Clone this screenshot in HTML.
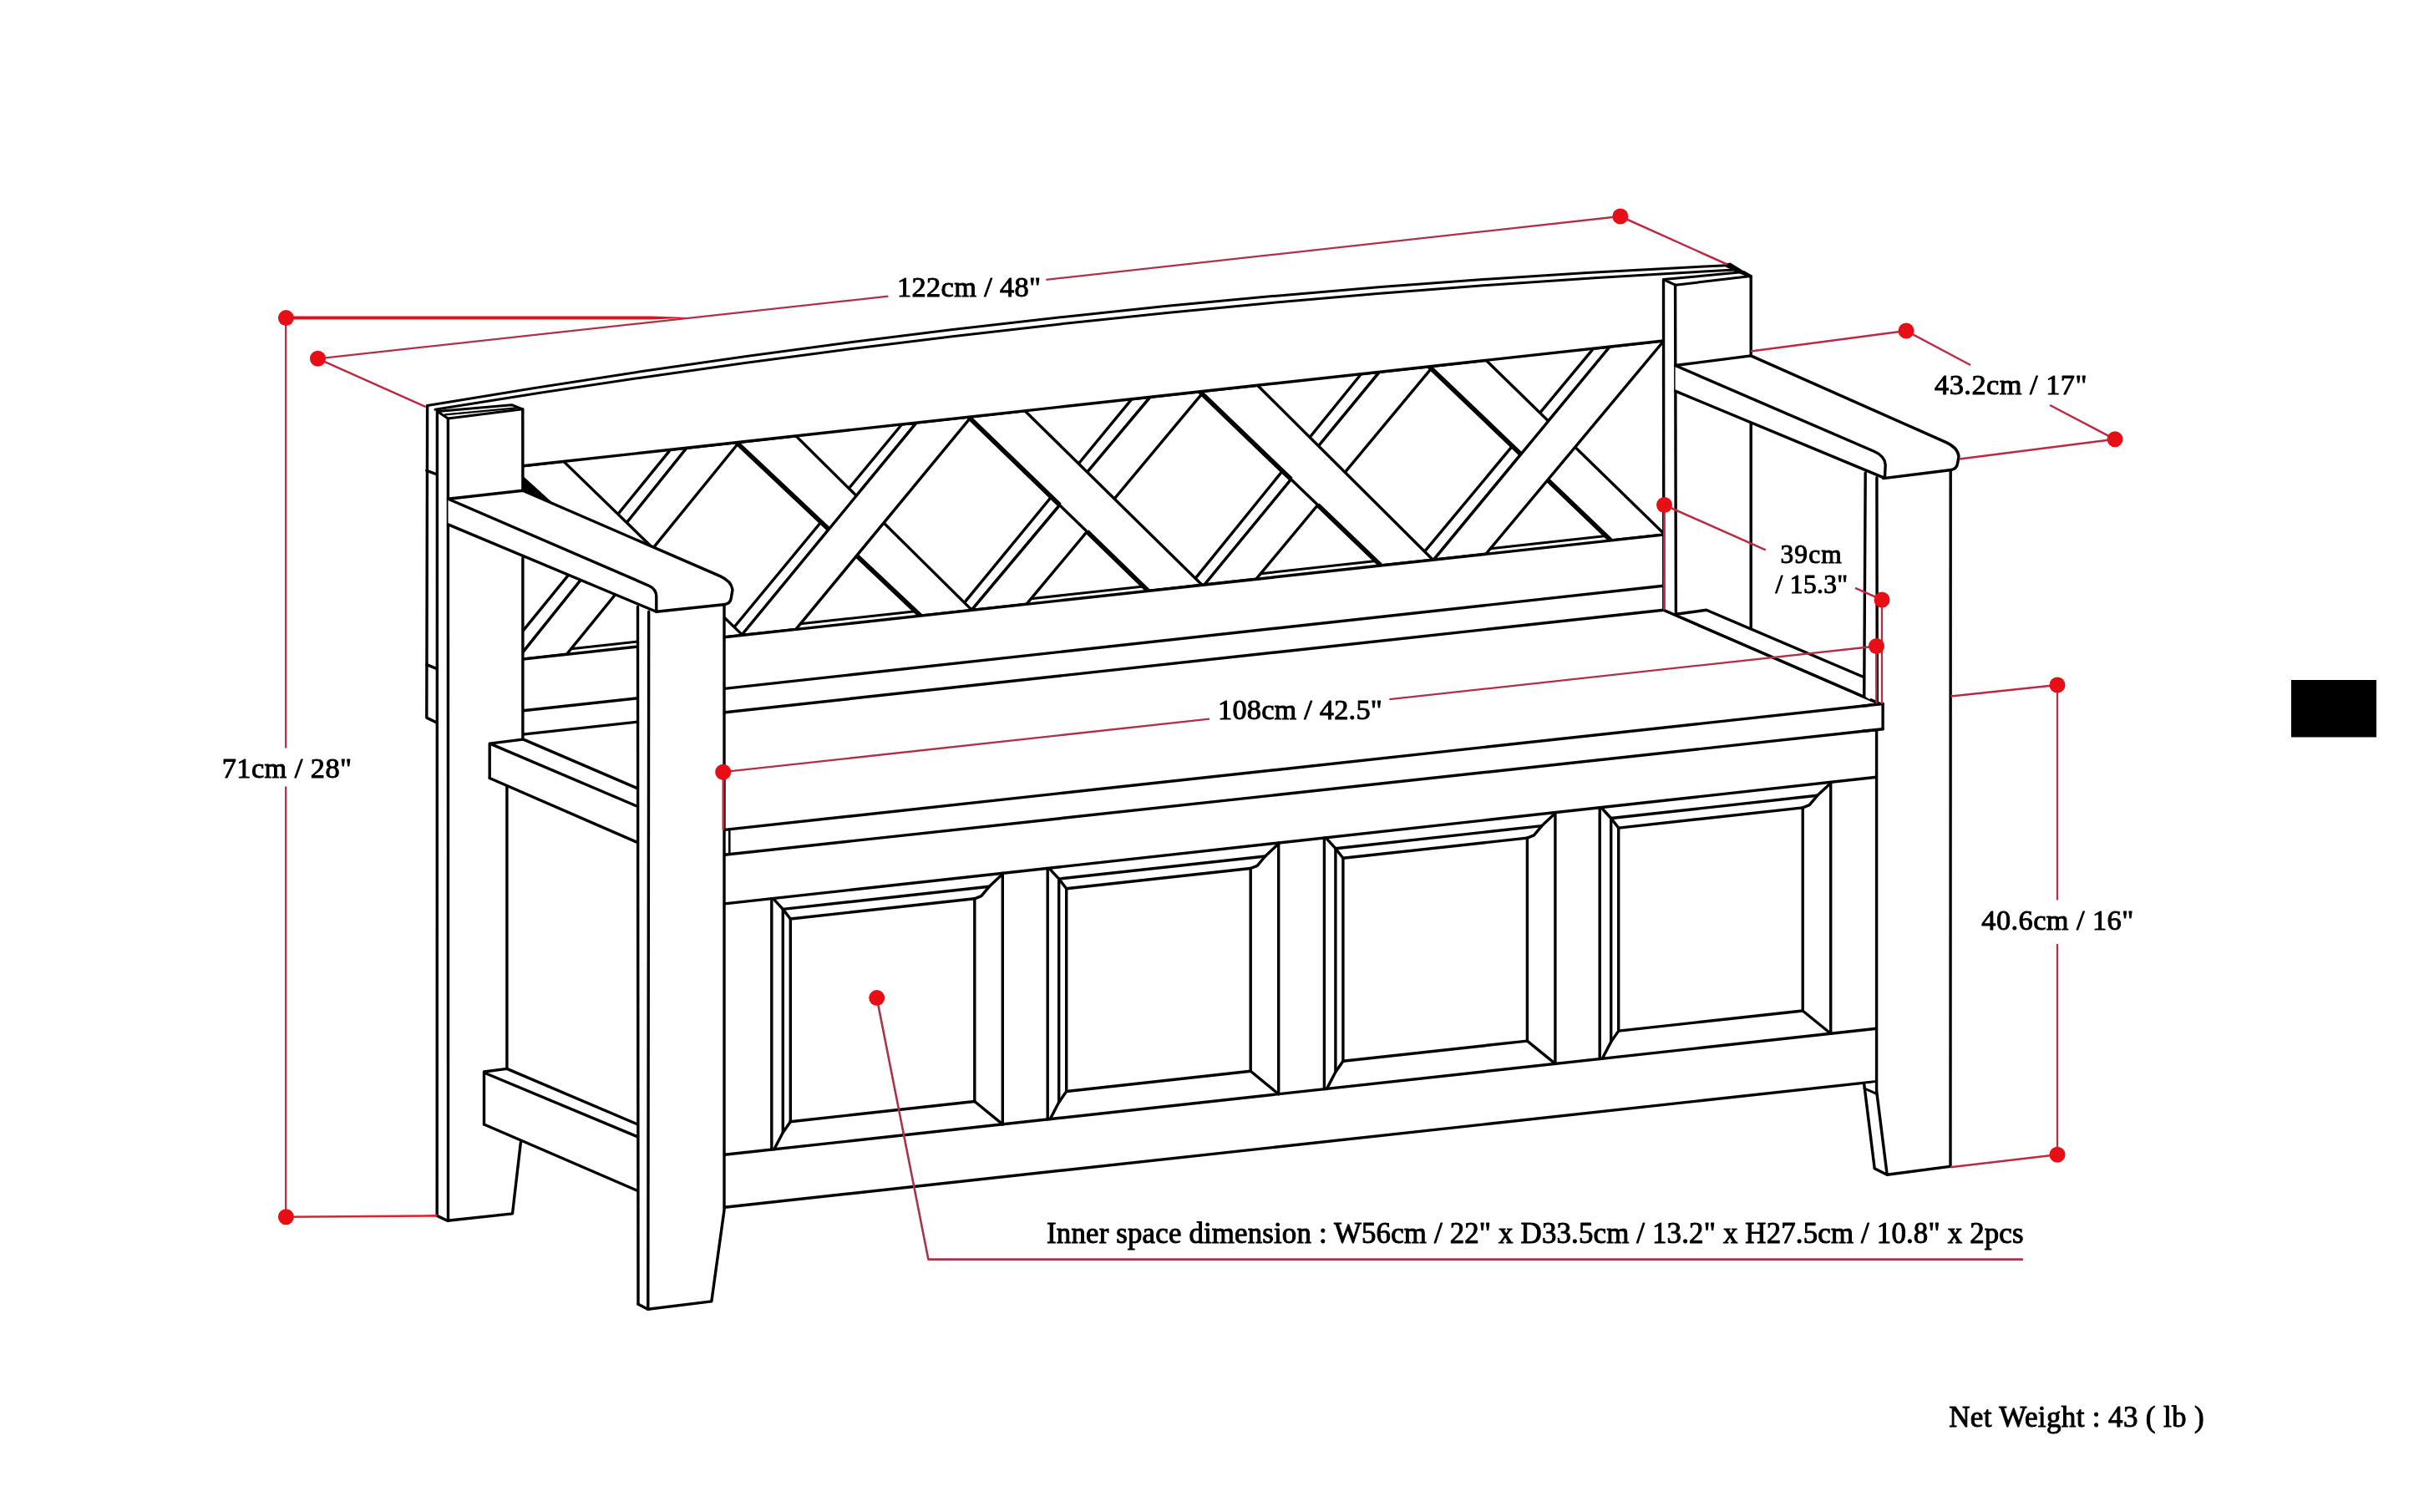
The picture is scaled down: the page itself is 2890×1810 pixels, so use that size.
<!DOCTYPE html>
<html><head><meta charset="utf-8"><title>Bench dimensions</title>
<style>html,body{margin:0;padding:0;background:#fff;}body{width:2890px;height:1810px;overflow:hidden;font-family:"Liberation Serif",serif;}svg{display:block;filter:blur(0.45px)}</style>
</head><body>
<svg width="2890" height="1810" viewBox="0 0 2890 1810">
<rect x="0" y="0" width="2890" height="1810" fill="#fff"/>
<polyline points="511.6,485.6 510.8,859.1 523.2,865.2" fill="none" stroke="#000" stroke-width="3.4" stroke-linejoin="round" stroke-linecap="round"/>
<line x1="510.8" y1="563.3" x2="523.2" y2="568" stroke="#000" stroke-width="3.4" stroke-linecap="round"/>
<line x1="510.8" y1="795.6" x2="523.2" y2="800.6" stroke="#000" stroke-width="3.4" stroke-linecap="round"/>
<path d="M521,490.3 Q1298.5,362.8 2076,323.1 L1991.5,408 L625.9,557.7 Z" fill="#fff" stroke="none"/>
<path d="M511.6,485.6 Q1291.8,353 2072,317.6" fill="none" stroke="#000" stroke-width="3.0" stroke-linejoin="round" stroke-linecap="round"/>
<path d="M521,490.3 Q1298.5,362.8 2076,323.1" fill="none" stroke="#000" stroke-width="3.0" stroke-linejoin="round" stroke-linecap="round"/>
<clipPath id="lat"><polygon points="625.9,557.7 1991.5,408 1991.5,640.1 625.9,789.1"/></clipPath>
<g clip-path="url(#lat)">
<polygon points="802.6,538.4 822.1,536.2 618.7,789.8 595.9,792.3" fill="#fff" stroke="#000" stroke-width="3.4" stroke-linejoin="round" stroke-linecap="round"/>
<polygon points="1079.7,508 1097.1,506.1 887.8,760.5 869.2,762.5" fill="#fff" stroke="#000" stroke-width="3.4" stroke-linejoin="round" stroke-linecap="round"/>
<polygon points="1354.8,477.8 1377,475.4 1163.2,730.4 1145.5,732.4" fill="#fff" stroke="#000" stroke-width="3.4" stroke-linejoin="round" stroke-linecap="round"/>
<polygon points="1629.5,447.7 1651.4,445.3 1441.9,700 1423.2,702.1" fill="#fff" stroke="#000" stroke-width="3.4" stroke-linejoin="round" stroke-linecap="round"/>
<polygon points="1907.7,417.2 1927.3,415 1716.4,670.1 1695.4,672.4" fill="#fff" stroke="#000" stroke-width="3.4" stroke-linejoin="round" stroke-linecap="round"/>
<polygon points="822.1,536.2 885,529.3 678.4,783.3 618.7,789.8" fill="#fff" stroke="#000" stroke-width="3.4" stroke-linejoin="round" stroke-linecap="round"/>
<polygon points="610.6,559.4 674.8,552.4 889,760.4 838.1,765.9" fill="#fff" stroke="#000" stroke-width="3.4" stroke-linejoin="round" stroke-linecap="round"/>
<line x1="610.6" y1="559.4" x2="838.1" y2="765.9" stroke="#000" stroke-width="5.6" stroke-linecap="butt"/>
<polygon points="881.9,529.7 952.9,521.9 1163.6,730.4 1101.9,737.1" fill="#fff" stroke="#000" stroke-width="3.4" stroke-linejoin="round" stroke-linecap="round"/>
<line x1="881.9" y1="529.7" x2="1101.9" y2="737.1" stroke="#000" stroke-width="5.6" stroke-linecap="butt"/>
<polygon points="1097.1,506.1 1162.8,498.9 952.8,753.4 887.8,760.5" fill="#fff" stroke="#000" stroke-width="3.4" stroke-linejoin="round" stroke-linecap="round"/>
<polygon points="1377,475.4 1441.5,468.3 1228.8,723.3 1163.2,730.4" fill="#fff" stroke="#000" stroke-width="3.4" stroke-linejoin="round" stroke-linecap="round"/>
<polygon points="1159.7,499.2 1227,491.8 1439.1,700.3 1374.7,707.4" fill="#fff" stroke="#000" stroke-width="3.4" stroke-linejoin="round" stroke-linecap="round"/>
<line x1="1159.7" y1="499.2" x2="1268.6" y2="604.6" stroke="#000" stroke-width="5.6" stroke-linecap="butt"/>
<line x1="1301.3" y1="636.3" x2="1374.7" y2="707.4" stroke="#000" stroke-width="5.6" stroke-linecap="butt"/>
<polygon points="1651.4,445.3 1716,438.2 1503.7,693.3 1441.9,700" fill="#fff" stroke="#000" stroke-width="3.4" stroke-linejoin="round" stroke-linecap="round"/>
<polygon points="1436.4,468.8 1505.5,461.3 1715.6,670.2 1653.1,677" fill="#fff" stroke="#000" stroke-width="3.4" stroke-linejoin="round" stroke-linecap="round"/>
<line x1="1436.4" y1="468.8" x2="1545.7" y2="573.8" stroke="#000" stroke-width="5.6" stroke-linecap="butt"/>
<line x1="1577.6" y1="604.5" x2="1653.1" y2="677" stroke="#000" stroke-width="5.6" stroke-linecap="butt"/>
<polygon points="1710.9,438.7 1779.1,431.3 1993,639.9 1928.5,646.9" fill="#fff" stroke="#000" stroke-width="3.4" stroke-linejoin="round" stroke-linecap="round"/>
<line x1="1710.9" y1="438.7" x2="1928.5" y2="646.9" stroke="#000" stroke-width="5.6" stroke-linecap="butt"/>
<polygon points="1927.3,415 1992,407.9 1778.8,663.3 1716.4,670.1" fill="#fff" stroke="#000" stroke-width="3.4" stroke-linejoin="round" stroke-linecap="round"/>
<line x1="958.2" y1="746.8" x2="1096.2" y2="731.7" stroke="#000" stroke-width="3.0" stroke-linecap="round"/>
<line x1="1234.3" y1="716.7" x2="1369.1" y2="702" stroke="#000" stroke-width="3.0" stroke-linecap="round"/>
<line x1="1509.2" y1="686.7" x2="1647.5" y2="671.6" stroke="#000" stroke-width="3.0" stroke-linecap="round"/>
<line x1="1784.3" y1="656.7" x2="1922.8" y2="641.6" stroke="#000" stroke-width="3.0" stroke-linecap="round"/>
<line x1="683.8" y1="776.7" x2="770" y2="767.3" stroke="#000" stroke-width="3.0" stroke-linecap="round"/>
</g>
<line x1="625.9" y1="557.7" x2="1991.5" y2="408" stroke="#000" stroke-width="3.4" stroke-linecap="round"/>
<line x1="625.9" y1="789.1" x2="1991.5" y2="640.1" stroke="#000" stroke-width="3.4" stroke-linecap="round"/>
<line x1="625.9" y1="850.8" x2="1991.5" y2="701.3" stroke="#000" stroke-width="3.4" stroke-linecap="round"/>
<polygon points="625.9,877.6 1991.8,730.3 2254.1,842.5 867.5,993.4 625.9,890" fill="#fff" stroke="none"/>
<line x1="625.9" y1="879.1" x2="1991.8" y2="730.3" stroke="#000" stroke-width="3.4" stroke-linecap="round"/>
<line x1="1991.8" y1="730.3" x2="2250.5" y2="842.4" stroke="#000" stroke-width="3.4" stroke-linecap="round"/>
<polygon points="867.5,1023.3 2247,873.5 2247,1300 867.5,1450" fill="#fff" stroke="none"/>
<polygon points="867.5,993.4 2254.1,842.5 2254.1,872.8 867.5,1023.3" fill="#fff" stroke="none"/>
<line x1="867.5" y1="993.4" x2="2254.1" y2="842.5" stroke="#000" stroke-width="3.4" stroke-linecap="round"/>
<line x1="867.5" y1="1023.3" x2="2254.1" y2="872.8" stroke="#000" stroke-width="3.4" stroke-linecap="round"/>
<line x1="2254.1" y1="842.5" x2="2254.1" y2="872.8" stroke="#000" stroke-width="3.4" stroke-linecap="round"/>
<line x1="873.3" y1="992.8" x2="873.3" y2="1022.7" stroke="#000" stroke-width="2.6" stroke-linecap="round"/>
<line x1="867.5" y1="1081.9" x2="2246.6" y2="930.3" stroke="#000" stroke-width="3.4" stroke-linecap="round"/>
<line x1="923.8" y1="1075.7" x2="923.8" y2="1376.1" stroke="#000" stroke-width="3.4" stroke-linecap="round"/>
<line x1="1200.3" y1="1045.3" x2="1200.3" y2="1345.9" stroke="#000" stroke-width="3.4" stroke-linecap="round"/>
<line x1="937.3" y1="1088.4" x2="937.3" y2="1355.7" stroke="#000" stroke-width="3.4" stroke-linecap="round"/>
<line x1="946.3" y1="1100" x2="946.3" y2="1342.7" stroke="#000" stroke-width="3.4" stroke-linecap="round"/>
<line x1="1166.8" y1="1075.8" x2="1166.8" y2="1318.5" stroke="#000" stroke-width="3.4" stroke-linecap="round"/>
<line x1="937.3" y1="1088.4" x2="1184.3" y2="1061.3" stroke="#000" stroke-width="3.4" stroke-linecap="round"/>
<line x1="946.3" y1="1100" x2="1166.8" y2="1075.8" stroke="#000" stroke-width="3.4" stroke-linecap="round"/>
<polyline points="926.3,1076.4 937.3,1088.4 946.3,1100" fill="none" stroke="#000" stroke-width="3.4" stroke-linejoin="round" stroke-linecap="round"/>
<polyline points="1200.3,1046.3 1184.3,1061.3 1174.8,1072.6 1166.8,1075.8" fill="none" stroke="#000" stroke-width="3.4" stroke-linejoin="round" stroke-linecap="round"/>
<line x1="946.3" y1="1342.7" x2="1166.8" y2="1318.5" stroke="#000" stroke-width="3.4" stroke-linecap="round"/>
<polyline points="946.3,1342.7 937.3,1355.7 926.8,1375.8" fill="none" stroke="#000" stroke-width="3.4" stroke-linejoin="round" stroke-linecap="round"/>
<line x1="1166.8" y1="1318.5" x2="1200.3" y2="1345.9" stroke="#000" stroke-width="3.4" stroke-linecap="round"/>
<line x1="1254.2" y1="1039.4" x2="1254.2" y2="1340" stroke="#000" stroke-width="3.4" stroke-linecap="round"/>
<line x1="1530.7" y1="1009" x2="1530.7" y2="1309.7" stroke="#000" stroke-width="3.4" stroke-linecap="round"/>
<line x1="1267.7" y1="1052.1" x2="1267.7" y2="1319.5" stroke="#000" stroke-width="3.4" stroke-linecap="round"/>
<line x1="1276.7" y1="1063.7" x2="1276.7" y2="1306.5" stroke="#000" stroke-width="3.4" stroke-linecap="round"/>
<line x1="1497.2" y1="1039.5" x2="1497.2" y2="1282.3" stroke="#000" stroke-width="3.4" stroke-linecap="round"/>
<line x1="1267.7" y1="1052.1" x2="1514.7" y2="1025" stroke="#000" stroke-width="3.4" stroke-linecap="round"/>
<line x1="1276.7" y1="1063.7" x2="1497.2" y2="1039.5" stroke="#000" stroke-width="3.4" stroke-linecap="round"/>
<polyline points="1256.7,1040.1 1267.7,1052.1 1276.7,1063.7" fill="none" stroke="#000" stroke-width="3.4" stroke-linejoin="round" stroke-linecap="round"/>
<polyline points="1530.7,1010 1514.7,1025 1505.2,1036.3 1497.2,1039.5" fill="none" stroke="#000" stroke-width="3.4" stroke-linejoin="round" stroke-linecap="round"/>
<line x1="1276.7" y1="1306.5" x2="1497.2" y2="1282.3" stroke="#000" stroke-width="3.4" stroke-linecap="round"/>
<polyline points="1276.7,1306.5 1267.7,1319.5 1257.2,1339.6" fill="none" stroke="#000" stroke-width="3.4" stroke-linejoin="round" stroke-linecap="round"/>
<line x1="1497.2" y1="1282.3" x2="1530.7" y2="1309.7" stroke="#000" stroke-width="3.4" stroke-linecap="round"/>
<line x1="1585.4" y1="1003" x2="1585.4" y2="1303.7" stroke="#000" stroke-width="3.4" stroke-linecap="round"/>
<line x1="1861.9" y1="972.6" x2="1861.9" y2="1273.4" stroke="#000" stroke-width="3.4" stroke-linecap="round"/>
<line x1="1598.9" y1="1015.7" x2="1598.9" y2="1283.2" stroke="#000" stroke-width="3.4" stroke-linecap="round"/>
<line x1="1607.9" y1="1027.3" x2="1607.9" y2="1270.2" stroke="#000" stroke-width="3.4" stroke-linecap="round"/>
<line x1="1828.4" y1="1003.1" x2="1828.4" y2="1246.1" stroke="#000" stroke-width="3.4" stroke-linecap="round"/>
<line x1="1598.9" y1="1015.7" x2="1845.9" y2="988.6" stroke="#000" stroke-width="3.4" stroke-linecap="round"/>
<line x1="1607.9" y1="1027.3" x2="1828.4" y2="1003.1" stroke="#000" stroke-width="3.4" stroke-linecap="round"/>
<polyline points="1587.9,1003.7 1598.9,1015.7 1607.9,1027.3" fill="none" stroke="#000" stroke-width="3.4" stroke-linejoin="round" stroke-linecap="round"/>
<polyline points="1861.9,973.6 1845.9,988.6 1836.4,999.9 1828.4,1003.1" fill="none" stroke="#000" stroke-width="3.4" stroke-linejoin="round" stroke-linecap="round"/>
<line x1="1607.9" y1="1270.2" x2="1828.4" y2="1246.1" stroke="#000" stroke-width="3.4" stroke-linecap="round"/>
<polyline points="1607.9,1270.2 1598.9,1283.2 1588.4,1303.4" fill="none" stroke="#000" stroke-width="3.4" stroke-linejoin="round" stroke-linecap="round"/>
<line x1="1828.4" y1="1246.1" x2="1861.9" y2="1273.4" stroke="#000" stroke-width="3.4" stroke-linecap="round"/>
<line x1="1915.2" y1="966.8" x2="1915.2" y2="1267.6" stroke="#000" stroke-width="3.4" stroke-linecap="round"/>
<line x1="2191.7" y1="936.4" x2="2191.7" y2="1237.3" stroke="#000" stroke-width="3.4" stroke-linecap="round"/>
<line x1="1928.7" y1="979.5" x2="1928.7" y2="1247.1" stroke="#000" stroke-width="3.4" stroke-linecap="round"/>
<line x1="1937.7" y1="991.1" x2="1937.7" y2="1234.1" stroke="#000" stroke-width="3.4" stroke-linecap="round"/>
<line x1="2158.2" y1="966.9" x2="2158.2" y2="1210" stroke="#000" stroke-width="3.4" stroke-linecap="round"/>
<line x1="1928.7" y1="979.5" x2="2175.7" y2="952.3" stroke="#000" stroke-width="3.4" stroke-linecap="round"/>
<line x1="1937.7" y1="991.1" x2="2158.2" y2="966.9" stroke="#000" stroke-width="3.4" stroke-linecap="round"/>
<polyline points="1917.7,967.5 1928.7,979.5 1937.7,991.1" fill="none" stroke="#000" stroke-width="3.4" stroke-linejoin="round" stroke-linecap="round"/>
<polyline points="2191.7,937.4 2175.7,952.3 2166.2,963.7 2158.2,966.9" fill="none" stroke="#000" stroke-width="3.4" stroke-linejoin="round" stroke-linecap="round"/>
<line x1="1937.7" y1="1234.1" x2="2158.2" y2="1210" stroke="#000" stroke-width="3.4" stroke-linecap="round"/>
<polyline points="1937.7,1234.1 1928.7,1247.1 1918.2,1267.2" fill="none" stroke="#000" stroke-width="3.4" stroke-linejoin="round" stroke-linecap="round"/>
<line x1="2158.2" y1="1210" x2="2191.7" y2="1237.3" stroke="#000" stroke-width="3.4" stroke-linecap="round"/>
<line x1="867.5" y1="1382.3" x2="2246.6" y2="1231.3" stroke="#000" stroke-width="3.4" stroke-linecap="round"/>
<line x1="867.5" y1="1445.2" x2="2244.2" y2="1294.9" stroke="#000" stroke-width="3.4" stroke-linecap="round"/>
<polygon points="523.7,492.4 612.6,484.7 625.8,489.8 625.8,587.3 536.5,597.3 536.5,1461 523.2,1455.4" fill="#fff" stroke="none"/>
<polygon points="536.5,597 625.9,587.3 625.9,1367 613.5,1452.9 535.6,1461.2" fill="#fff" stroke="none"/>
<polygon points="523.7,492.4 612.6,484.7 625.8,489.8 536.3,501" fill="#fff" stroke="#000" stroke-width="3.0" stroke-linejoin="round" stroke-linecap="round"/>
<line x1="533" y1="496.4" x2="617.9" y2="488.4" stroke="#000" stroke-width="2.4" stroke-linecap="round"/>
<line x1="523.4" y1="492.4" x2="523.2" y2="1455.4" stroke="#000" stroke-width="3.4" stroke-linecap="round"/>
<line x1="536.4" y1="501" x2="536.5" y2="1461.2" stroke="#000" stroke-width="3.4" stroke-linecap="round"/>
<line x1="625.8" y1="489.8" x2="625.9" y2="587.3" stroke="#000" stroke-width="3.4" stroke-linecap="round"/>
<line x1="625.9" y1="667.7" x2="625.9" y2="885.5" stroke="#000" stroke-width="3.4" stroke-linecap="round"/>
<polyline points="523.2,1455.4 535.6,1461.2 613.5,1452.9 623.4,1367.5" fill="none" stroke="#000" stroke-width="3.4" stroke-linejoin="round" stroke-linecap="round"/>
<polygon points="606.9,940 763.5,1008 763.5,1346 606.9,1279.7" fill="#fff" stroke="none"/>
<line x1="606.9" y1="940.6" x2="606.9" y2="1279.7" stroke="#000" stroke-width="3.4" stroke-linecap="round"/>
<polygon points="579.5,1283 606.9,1279.4 763.5,1346 763.5,1425.5 579.5,1346" fill="#fff" stroke="none"/>
<polyline points="579.5,1346 579.5,1283 606.9,1279.4 763.5,1346" fill="none" stroke="#000" stroke-width="3.4" stroke-linejoin="round" stroke-linecap="round"/>
<line x1="581.2" y1="1284.7" x2="763.5" y2="1360.9" stroke="#000" stroke-width="3.4" stroke-linecap="round"/>
<line x1="579.5" y1="1346" x2="763.5" y2="1425.5" stroke="#000" stroke-width="3.4" stroke-linecap="round"/>
<polygon points="586.2,890.1 625.9,885.1 628.4,885.9 763.5,943.9 763.5,1008.6 586.2,931.5" fill="#fff" stroke="none"/>
<polyline points="586.2,931.5 586.2,890.1 625.9,885.1 628.4,885.9 763.5,943.9" fill="none" stroke="#000" stroke-width="3.4" stroke-linejoin="round" stroke-linecap="round"/>
<line x1="587" y1="890.4" x2="763.5" y2="965.5" stroke="#000" stroke-width="3.4" stroke-linecap="round"/>
<line x1="586.2" y1="931.5" x2="763.5" y2="1008.6" stroke="#000" stroke-width="3.4" stroke-linecap="round"/>
<polygon points="763.5,726.5 785.8,732.3 867,723.2 867,1448.7 851.8,1557.9 775.6,1567.2 764,1561.2" fill="#fff" stroke="none"/>
<line x1="763.5" y1="726.5" x2="764" y2="1561.2" stroke="#000" stroke-width="3.4" stroke-linecap="round"/>
<line x1="776.7" y1="732.3" x2="775.8" y2="1567.2" stroke="#000" stroke-width="3.4" stroke-linecap="round"/>
<polyline points="867,723.2 867,1448.7 851.8,1557.9 775.6,1567.2 764,1561.2" fill="none" stroke="#000" stroke-width="3.4" stroke-linejoin="round" stroke-linecap="round"/>
<polygon points="536.5,597.3 625.9,587.3 862,689.6 877,706 875.3,718 868,723.6 785.8,732.3 536.5,627.9" fill="#fff" stroke="none"/>
<polygon points="625.9,573.3 654.1,598.9 625.9,587.3" fill="#000"/>
<path d="M536.5,597.3 L625.9,587.3 L862,689.6 Q875.5,695.5 877,706 L875.3,716 Q874.5,723 866,723.8 L785.8,732.3" fill="none" stroke="#000" stroke-width="3.4" stroke-linejoin="round" stroke-linecap="round"/>
<path d="M536.5,597.3 L777,701.2 Q785.8,705 785.8,714.5 L785.8,732.3 L536.5,627.9" fill="none" stroke="#000" stroke-width="3.4" stroke-linejoin="round" stroke-linecap="round"/>
<polygon points="1991.5,335.1 2087.6,325.6 2096.2,330.6 2096.2,751 2006.4,735.3 1991.8,730.3" fill="#fff" stroke="none"/>
<polygon points="1991.5,334.6 2087.6,325.6 2096.2,330.6 2005.6,341.2" fill="#fff" stroke="#000" stroke-width="3.0" stroke-linejoin="round" stroke-linecap="round"/>
<line x1="1991.5" y1="334.6" x2="1991.8" y2="730.3" stroke="#000" stroke-width="3.4" stroke-linecap="round"/>
<line x1="2005.6" y1="341.2" x2="2006.4" y2="735.3" stroke="#000" stroke-width="3.4" stroke-linecap="round"/>
<line x1="2096.2" y1="330.6" x2="2096.2" y2="425.9" stroke="#000" stroke-width="3.4" stroke-linecap="round"/>
<line x1="2096.2" y1="507" x2="2096.2" y2="752" stroke="#000" stroke-width="3.4" stroke-linecap="round"/>
<polygon points="2066.5,315.4 2071.5,314.6 2097.4,330.6 2095.4,332.8 2078,325.6 2066,319.4" fill="#000"/>
<polygon points="2006.4,735.3 2042.9,730.3 2231.7,810.7 2231.7,833.9 2248,842 2020,741" fill="#fff" stroke="none"/>
<polyline points="2006.4,735.3 2042.9,730.3 2231.7,810.7 2231.7,833.9" fill="none" stroke="#000" stroke-width="3.4" stroke-linejoin="round" stroke-linecap="round"/>
<line x1="1991.8" y1="730.3" x2="2250.5" y2="842.4" stroke="#000" stroke-width="3.4" stroke-linecap="round"/>
<polygon points="2233.2,566 2254.7,572.6 2335.2,562.6 2335,1396.4 2259.1,1406.3 2244.2,1398.8 2231.7,1297.8 2246.6,1296 2246.6,842 2233.2,834" fill="#fff" stroke="none"/>
<line x1="2233.2" y1="566" x2="2231.7" y2="833.9" stroke="#000" stroke-width="3.4" stroke-linecap="round"/>
<line x1="2246.9" y1="571.7" x2="2247.3" y2="842.2" stroke="#000" stroke-width="3.4" stroke-linecap="round"/>
<line x1="2246.6" y1="872.8" x2="2246.6" y2="1306" stroke="#000" stroke-width="3.4" stroke-linecap="round"/>
<line x1="2246.6" y1="1306" x2="2259.1" y2="1405.5" stroke="#000" stroke-width="3.4" stroke-linecap="round"/>
<polyline points="2231.7,1297.8 2244.2,1398.8 2259.1,1406.3 2334.5,1396.4" fill="none" stroke="#000" stroke-width="3.4" stroke-linejoin="round" stroke-linecap="round"/>
<line x1="2231.7" y1="1302.7" x2="2246.6" y2="1309.4" stroke="#000" stroke-width="2.8" stroke-linecap="round"/>
<line x1="2335.2" y1="562.6" x2="2335" y2="1396.4" stroke="#000" stroke-width="3.4" stroke-linecap="round"/>
<polygon points="2238,844.3 2254.1,842.5 2254.1,872.8 2238,874.5" fill="#fff" stroke="none"/>
<line x1="2230" y1="845.1" x2="2254.1" y2="842.5" stroke="#000" stroke-width="3.4" stroke-linecap="round"/>
<line x1="2230" y1="875.3" x2="2254.1" y2="872.8" stroke="#000" stroke-width="3.4" stroke-linecap="round"/>
<line x1="2254.1" y1="842.5" x2="2254.1" y2="872.8" stroke="#000" stroke-width="3.4" stroke-linecap="round"/>
<line x1="2240" y1="837.8" x2="2250.5" y2="842.4" stroke="#000" stroke-width="3.4" stroke-linecap="round"/>
<polygon points="2005.6,437.5 2096.2,425.9 2331.7,530.3 2345,546 2343.3,556 2335,562.6 2254.7,572.6 2005.6,468.1" fill="#fff" stroke="none"/>
<path d="M2005.6,437.5 L2096.2,425.9 L2330,529.6 Q2344,536 2345,546.5 L2343.5,555 Q2342.5,562 2334,562.7 L2254.7,572.6" fill="none" stroke="#000" stroke-width="3.4" stroke-linejoin="round" stroke-linecap="round"/>
<path d="M2005.6,437.5 L2244,540.5 Q2256.5,546 2257.2,556.5 L2256.4,572.4 L2005.6,468.1" fill="none" stroke="#000" stroke-width="3.4" stroke-linejoin="round" stroke-linecap="round"/>
<polygon points="342.4,378.6 780,378.6 830,380.2 780,382.6 342.4,382.6" fill="#e0101c"/>
<line x1="342.2" y1="380.6" x2="342.2" y2="895.4" stroke="#b03046" stroke-width="2.3" stroke-linecap="butt"/>
<line x1="342.2" y1="941.4" x2="342.2" y2="1456.8" stroke="#b03046" stroke-width="2.3" stroke-linecap="butt"/>
<line x1="342.4" y1="1456.8" x2="523" y2="1455.4" stroke="#e0202c" stroke-width="2.6" stroke-linecap="butt"/>
<line x1="380.5" y1="429.3" x2="1063.4" y2="354.7" stroke="#b03046" stroke-width="2.3" stroke-linecap="butt"/>
<line x1="1252.3" y1="334.8" x2="1939.8" y2="259" stroke="#b03046" stroke-width="2.3" stroke-linecap="butt"/>
<line x1="380.5" y1="429.3" x2="509.8" y2="487.1" stroke="#bc2a42" stroke-width="2.5" stroke-linecap="butt"/>
<line x1="1939.8" y1="259" x2="2067.7" y2="316.5" stroke="#bc2a42" stroke-width="2.5" stroke-linecap="butt"/>
<line x1="2096.2" y1="420.5" x2="2282" y2="396" stroke="#bc2a42" stroke-width="2.5" stroke-linecap="butt"/>
<line x1="2282" y1="396" x2="2359" y2="437" stroke="#bc2a42" stroke-width="2.5" stroke-linecap="butt"/>
<line x1="2454.1" y1="485" x2="2532" y2="525.8" stroke="#bc2a42" stroke-width="2.5" stroke-linecap="butt"/>
<line x1="2532" y1="525.8" x2="2345.8" y2="549.4" stroke="#bc2a42" stroke-width="2.5" stroke-linecap="butt"/>
<line x1="1992.5" y1="604.5" x2="2113.8" y2="658.3" stroke="#bc2a42" stroke-width="2.5" stroke-linecap="butt"/>
<line x1="1992.3" y1="604.5" x2="1992.3" y2="730.3" stroke="#bc2a42" stroke-width="2.5" stroke-linecap="butt"/>
<line x1="2221" y1="703.8" x2="2253" y2="718" stroke="#bc2a42" stroke-width="2.5" stroke-linecap="butt"/>
<line x1="2253" y1="718" x2="2253" y2="842.5" stroke="#b03046" stroke-width="2.3" stroke-linecap="butt"/>
<line x1="2246.5" y1="773.5" x2="2246.5" y2="842" stroke="#b03046" stroke-width="2.3" stroke-linecap="butt"/>
<line x1="865.7" y1="924.2" x2="1448" y2="860.6" stroke="#b03046" stroke-width="2.3" stroke-linecap="butt"/>
<line x1="1663.4" y1="837.1" x2="2246.5" y2="773.5" stroke="#b03046" stroke-width="2.3" stroke-linecap="butt"/>
<line x1="865.9" y1="924.2" x2="865.9" y2="993.5" stroke="#bc2a42" stroke-width="2.8" stroke-linecap="butt"/>
<line x1="2335.5" y1="833.6" x2="2463" y2="820" stroke="#bc2a42" stroke-width="2.5" stroke-linecap="butt"/>
<line x1="2463" y1="820" x2="2463" y2="1077.5" stroke="#b03046" stroke-width="2.3" stroke-linecap="butt"/>
<line x1="2463" y1="1130" x2="2463" y2="1382.3" stroke="#b03046" stroke-width="2.3" stroke-linecap="butt"/>
<line x1="2463" y1="1382.3" x2="2335" y2="1397.2" stroke="#bc2a42" stroke-width="2.5" stroke-linecap="butt"/>
<polyline points="1049.7,1194.6 1111.4,1507.6 2421,1507.6" fill="none" stroke="#a83448" stroke-width="2.6" stroke-linejoin="round" stroke-linecap="round"/>
<circle cx="342.4" cy="380.6" r="9.5" fill="#e80e16"/>
<circle cx="380.5" cy="429.3" r="9.5" fill="#e80e16"/>
<circle cx="1939.8" cy="259" r="9.5" fill="#e80e16"/>
<circle cx="2282" cy="396" r="9.5" fill="#e80e16"/>
<circle cx="2532" cy="525.8" r="9.5" fill="#e80e16"/>
<circle cx="1992.5" cy="604.5" r="9.5" fill="#e80e16"/>
<circle cx="2253" cy="718" r="9.5" fill="#e80e16"/>
<circle cx="2246.5" cy="773.5" r="9.5" fill="#e80e16"/>
<circle cx="2463" cy="820" r="9.5" fill="#e80e16"/>
<circle cx="2463" cy="1382.3" r="9.5" fill="#e80e16"/>
<circle cx="342.4" cy="1456.8" r="9.5" fill="#e80e16"/>
<circle cx="865.7" cy="924.2" r="9.5" fill="#e80e16"/>
<circle cx="1049.7" cy="1194.6" r="9.5" fill="#e80e16"/>
<g font-family="'Liberation Serif', serif" fill="#000" stroke="#000" stroke-width="1.0" stroke-linejoin="round">
<text x="1074" y="354.7" textLength="172" lengthAdjust="spacing" font-size="34.3" xml:space="preserve">122cm / 48&quot;</text>
<text x="2316" y="472.4" textLength="182.5" lengthAdjust="spacing" font-size="34.3" xml:space="preserve">43.2cm / 17&quot;</text>
<text x="2131.5" y="674.2" textLength="73.1" lengthAdjust="spacing" font-size="31.4" xml:space="preserve">39cm</text>
<text x="2125.5" y="709.6" textLength="86.7" lengthAdjust="spacing" font-size="31.4" xml:space="preserve">/ 15.3&quot;</text>
<text x="1458" y="861.4" textLength="196.8" lengthAdjust="spacing" font-size="34.3" xml:space="preserve">108cm / 42.5&quot;</text>
<text x="265.7" y="930.8" textLength="155.3" lengthAdjust="spacing" font-size="34.3" xml:space="preserve">71cm / 28&quot;</text>
<text x="2372.3" y="1113" textLength="181.9" lengthAdjust="spacing" font-size="34.3" xml:space="preserve">40.6cm / 16&quot;</text>
<text x="1253.1" y="1487.7" textLength="1169.4" lengthAdjust="spacing" font-size="34.8" xml:space="preserve">Inner space dimension : W56cm / 22&quot; x D33.5cm / 13.2&quot; x H27.5cm / 10.8&quot; x 2pcs</text>
<text x="2333.2" y="1708.4" textLength="305.5" lengthAdjust="spacing" font-size="35" xml:space="preserve">Net Weight : 43 ( lb )</text>
</g>
<rect x="2743" y="814" width="102" height="68.5" fill="#000"/>
</svg>
</body></html>
